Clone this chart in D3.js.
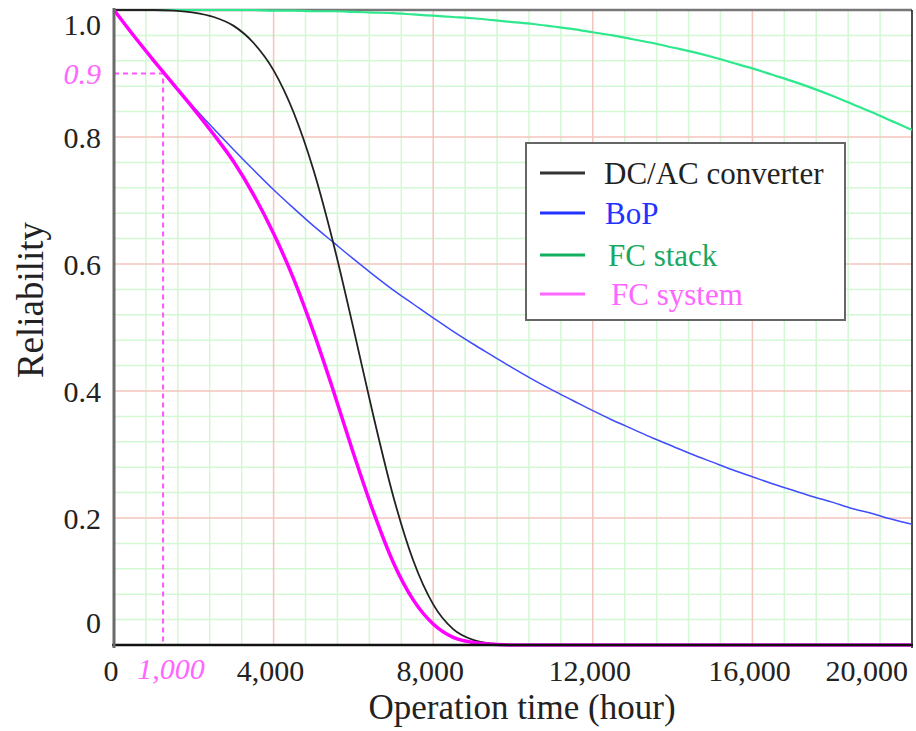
<!doctype html>
<html>
  <head>
    <script src="https://cdnjs.cloudflare.com/ajax/libs/d3/7.8.5/d3.min.js"></script>
  <style>
    body { margin: 0; background: #fff; }
    text { font-family: "Liberation Serif", "Times New Roman", serif; }
    path.curve { fill: none; }
  </style>
  </head>
  <body>
    <svg id="chart" width="916" height="731"></svg>
    <script>
      // operation time, hours
      var hours = [0, 500, 1000, 1500, 2000, 2500, 3000, 3500, 4000, 4500,
        5000, 5500, 6000, 6500, 7000, 7500, 8000, 8500, 9000, 9500,
        10000, 10500, 11000, 11500, 12000, 12500, 13000, 13500, 14000, 14500,
        15000, 15500, 16000, 16500, 17000, 17500, 18000, 18500, 19000, 19500, 20000];

      var dcac = [1.000, 1.000, 1.000, 0.999, 0.996, 0.989, 0.975, 0.948, 0.905, 0.839,
        0.748, 0.632, 0.499, 0.361, 0.234, 0.133, 0.064, 0.025, 0.008, 0.002,
        0.000, 0, 0, 0, 0, 0, 0, 0, 0, 0,
        0, 0, 0, 0, 0, 0, 0, 0, 0, 0, 0];

      var bop = [1.000, 0.959, 0.920, 0.883, 0.847, 0.813, 0.780, 0.748, 0.717, 0.688,
        0.660, 0.634, 0.608, 0.583, 0.559, 0.537, 0.515, 0.494, 0.474, 0.455,
        0.436, 0.418, 0.401, 0.385, 0.369, 0.354, 0.340, 0.326, 0.313, 0.300,
        0.288, 0.276, 0.265, 0.254, 0.244, 0.234, 0.225, 0.215, 0.207, 0.198, 0.190];

      var stack = [1.000, 1.000, 1.000, 1.000, 1.000, 1.000, 1.000, 1.000, 0.999, 0.999,
        0.998, 0.998, 0.997, 0.996, 0.995, 0.993, 0.991, 0.989, 0.987, 0.984,
        0.981, 0.978, 0.974, 0.970, 0.965, 0.960, 0.954, 0.948, 0.941, 0.934,
        0.926, 0.917, 0.908, 0.898, 0.888, 0.877, 0.865, 0.852, 0.839, 0.825, 0.811];

      var system = [1.000, 0.959, 0.920, 0.882, 0.844, 0.804, 0.761, 0.709, 0.648, 0.577,
        0.493, 0.400, 0.302, 0.210, 0.130, 0.071, 0.033, 0.012, 0.004, 0.001,
        0.000, 0, 0, 0, 0, 0, 0, 0, 0, 0,
        0, 0, 0, 0, 0, 0, 0, 0, 0, 0, 0];

      var seriesNames = ["DC/AC converter", "BoP", "FC stack", "FC system"];
      var xTicks = [0, 4000, 8000, 12000, 16000, 20000];
      var yTicks = [0, 0.2, 0.4, 0.6, 0.8, 1.0];
      var markTime = 1230, markLabel = "1,000";
      var markRel = 0.9, markRelLabel = "0.9";

      var svg = d3.select("#chart");
      var x = d3.scaleLinear().domain([0, 20000]).range([114, 912]);
      var y = d3.scaleLinear().domain([0, 1]).range([645, 10]);

      // grid: light green minor, light red major
      var minorX = d3.range(800, 20000, 800).filter(v => v % 4000 !== 0);
      var minorY = d3.range(0.04, 1, 0.04).filter(v => Math.abs(v * 5 - Math.round(v * 5)) > 1e-6);
      var grid = svg.append("g");
      grid.selectAll(".mx").data(minorX).enter().append("line")
        .attr("x1", d => x(d)).attr("x2", d => x(d)).attr("y1", y(1)).attr("y2", y(0))
        .attr("stroke", "#d3f8d3").attr("stroke-width", 1.5);
      grid.selectAll(".my").data(minorY).enter().append("line")
        .attr("x1", x(0)).attr("x2", x(20000)).attr("y1", d => y(d)).attr("y2", d => y(d))
        .attr("stroke", "#d3f8d3").attr("stroke-width", 1.5);
      grid.selectAll(".MX").data(xTicks.slice(1, -1)).enter().append("line")
        .attr("x1", d => x(d)).attr("x2", d => x(d)).attr("y1", y(1)).attr("y2", y(0))
        .attr("stroke", "#f5c4bc").attr("stroke-width", 1.5);
      grid.selectAll(".MY").data(yTicks.slice(1, -1)).enter().append("line")
        .attr("x1", x(0)).attr("x2", x(20000)).attr("y1", d => y(d)).attr("y2", d => y(d))
        .attr("stroke", "#f5c4bc").attr("stroke-width", 1.5);

      // frame
      svg.append("line").attr("x1", x(0)).attr("x2", x(20000)).attr("y1", y(1)).attr("y2", y(1))
        .attr("stroke", "#777").attr("stroke-width", 2.5);
      svg.append("line").attr("x1", x(20000)).attr("x2", x(20000)).attr("y1", y(1)).attr("y2", y(0) + 3)
        .attr("stroke", "#111").attr("stroke-width", 1.5);

      // annotation
      svg.append("path")
        .attr("d", `M${x(0)},${y(markRel)}H${x(markTime)}V${y(0)}`)
        .attr("fill", "none").attr("stroke", "#ff55ff").attr("stroke-width", 2)
        .attr("stroke-dasharray", "5,4");

      var lineFor = vals => d3.line()
        .x((d, i) => x(hours[i]))
        .y(d => y(d))
        .curve(d3.curveMonotoneX)(vals);

      var curves = [
        { v: stack, c: "#2ee88e", w: 2.2 },
        { v: bop, c: "#3f4cff", w: 1.5 },
        { v: dcac, c: "#222", w: 1.8 },
        { v: system, c: "#ff00ff", w: 3.5 }
      ];
      curves.forEach(s => {
        svg.append("path").attr("class", "curve").attr("d", lineFor(s.v))
          .attr("stroke", s.c).attr("stroke-width", s.w);
      });

      // axes lines
      svg.append("line").attr("x1", x(0) - 2).attr("x2", x(20000) + 1).attr("y1", y(0)).attr("y2", y(0))
        .attr("stroke", "#111").attr("stroke-width", 2.5);
      svg.append("line").attr("x1", x(0)).attr("x2", x(0)).attr("y1", y(1) - 2).attr("y2", y(0) + 3)
        .attr("stroke", "#6a6a6a").attr("stroke-width", 3);

      // tick labels
      var fmt = d3.format(",");
      svg.selectAll(".yl").data(yTicks).enter().append("text")
        .attr("x", 101)
        .attr("y", d => Math.min(Math.max(y(d), 24), 622))
        .attr("dy", "0.35em").attr("text-anchor", "end")
        .attr("font-size", 30).attr("fill", "#222")
        .text(d => d === 0 ? "0" : d.toFixed(1));
      svg.selectAll(".xl").data(xTicks).enter().append("text")
        .attr("x", d => d === 20000 ? x(d) - 4 : x(d) - 3)
        .attr("y", 670).attr("dy", "0.35em")
        .attr("text-anchor", d => d === 20000 ? "end" : "middle")
        .attr("font-size", 30).attr("fill", "#222")
        .text(d => fmt(d));

      svg.append("text").attr("x", 101).attr("y", y(markRel)).attr("dy", "0.35em")
        .attr("text-anchor", "end").attr("font-size", 30).attr("font-style", "italic")
        .attr("fill", "#ff66ff").text(markRelLabel);
      svg.append("text").attr("x", x(markTime) + 8).attr("y", 668).attr("dy", "0.35em")
        .attr("text-anchor", "middle").attr("font-size", 30).attr("font-style", "italic")
        .attr("fill", "#ff66ff").text(markLabel);

      // axis titles
      svg.append("text").attr("x", 522).attr("y", 719).attr("text-anchor", "middle")
        .attr("font-size", 35).attr("fill", "#222").text("Operation time (hour)");
      svg.append("text").attr("transform", "translate(43,300) rotate(-90)")
        .attr("text-anchor", "middle").attr("font-size", 37).attr("fill", "#222").text("Reliability");

      // legend
      var legendColors = ["#333", "#2233ff", "#12b05e", "#ff66ff"];
      var legendText = ["#222", "#2233ff", "#1aa860", "#ff66ff"];
      var lg = svg.append("g");
      lg.append("rect").attr("x", 526).attr("y", 143).attr("width", 319).attr("height", 177)
        .attr("fill", "#fff").attr("stroke", "#666").attr("stroke-width", 2);
      var rows = [173, 213, 255, 294];
      seriesNames.forEach((n, i) => {
        lg.append("line").attr("x1", 540).attr("x2", 585).attr("y1", rows[i]).attr("y2", rows[i])
          .attr("stroke", legendColors[i]).attr("stroke-width", 3);
        lg.append("text").attr("x", i === 0 ? 604 : 602 + 3 * i).attr("y", rows[i]).attr("dy", "0.35em")
          .attr("font-size", 31).attr("fill", legendText[i]).text(n);
      });
    </script>
  </body>
</html>
